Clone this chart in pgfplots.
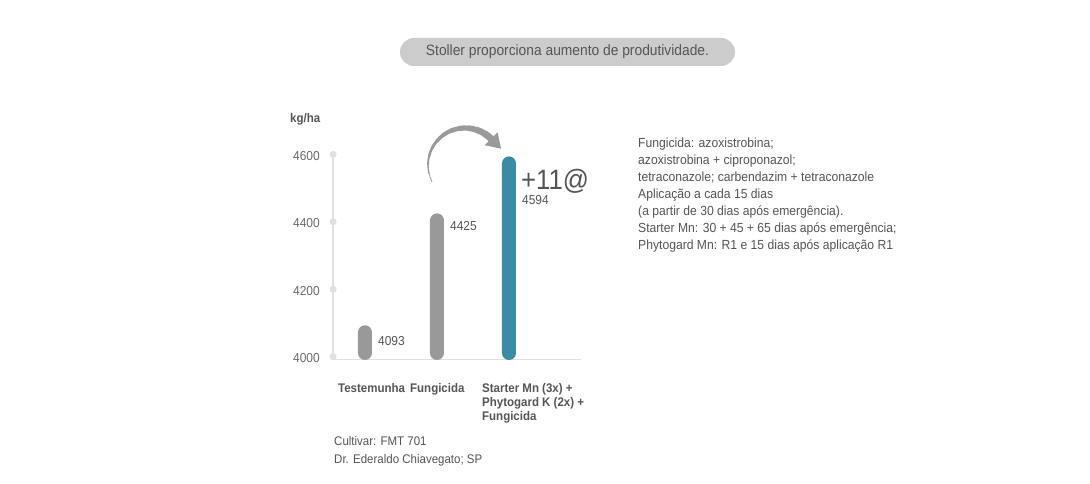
\documentclass[border=0pt]{standalone}
\usepackage{fontspec}
\setmainfont{Liberation Sans}[FakeStretch=0.92]
\usepackage{pgfplots}
\pgfplotsset{compat=1.18}
\definecolor{barg}{HTML}{999999}
\definecolor{bteal}{HTML}{3A8CA4}
\definecolor{axg}{HTML}{E0E0E0}
\definecolor{txt}{HTML}{555555}
\definecolor{tickc}{HTML}{6A6A6A}
\definecolor{pill}{HTML}{CCCCCC}
\definecolor{arr}{HTML}{9A9A9A}
\begin{document}
\begin{tikzpicture}[x=1pt,y=1pt]
\useasboundingbox[fill=white] (0,0) rectangle (1090,484);
\fill[pill, rounded corners=14pt] (400,418) rectangle (735,446);
\node[text=txt, font=\fontsize{15}{17}\selectfont] at (567.5,432) {Stoller proporciona aumento de produtividade.};
\node[anchor=base west, text=txt, inner sep=0pt, font=\fontsize{12.5}{15}\selectfont\bfseries] at (290,361) {kg/ha};

\begin{axis}[
  at={(333pt,124pt)}, anchor=south west,
  scale only axis, width=248pt, height=205.6pt,
  xmin=-0.444, xmax=3, ymin=3990, ymax=4600,
  axis lines*=left,
  x axis line style={draw=axg, line width=1pt},
  y axis line style={draw=axg, line width=2.5pt},
  xtick={0,1,2},
  xticklabels={Testemunha, Fungicida, {Starter Mn (3x) +\\Phytogard K (2x) +\\Fungicida}},
  xticklabel style={align=left, anchor=north west, inner sep=0pt, xshift=-27pt, yshift=-23.5pt, text=txt, font=\fontsize{12.5}{14}\selectfont\bfseries},
  ytick={4000,4200,4400,4600},
  yticklabel style={text=tickc, font=\fontsize{13}{15}\selectfont, inner sep=0pt, xshift=-13pt, yshift=-1.5pt, anchor=east},
  /pgf/number format/assume math mode=true,
  /pgf/number format/1000 sep={},
  major tick length=0pt,
  every node near coord/.append style={anchor=west, inner sep=0pt, text=txt, font=\fontsize{13}{15}\selectfont},
]
\addplot[only marks, mark=*, mark size=3.3pt, color=axg] coordinates {(-0.444,4000) (-0.444,4200) (-0.444,4400) (-0.444,4600)};
\addplot[ybar, bar width=14pt, bar shift=0pt, fill=barg, draw=none, rounded corners=7pt,
  nodes near coords, every node near coord/.append style={xshift=13pt, yshift=-16pt}] coordinates {(0,4093)};
\addplot[ybar, bar width=14pt, bar shift=0pt, fill=barg, draw=none, rounded corners=7pt,
  nodes near coords, every node near coord/.append style={xshift=13pt, yshift=-12.5pt}] coordinates {(1,4425)};
\addplot[ybar, bar width=14pt, bar shift=0pt, fill=bteal, draw=none, rounded corners=7pt,
  nodes near coords, every node near coord/.append style={xshift=13pt, yshift=-43.5pt}] coordinates {(2,4594)};
\end{axis}

% curved arrow
\begin{scope}[arr]
\foreach \i in {0,...,11}{
  \pgfmathsetmacro{\sa}{207-\i*13.5}
  \pgfmathsetmacro{\ea}{\sa-14.5}
  \pgfmathsetmacro{\w}{0.8+\i*0.55}
  \draw[line width=\w pt] (465,319) ++(\sa:37) arc[start angle=\sa, end angle=\ea, radius=37];
}
\fill (497.6,351.6) -- (501.1,335.3) -- (484.8,338.8) -- cycle;
\end{scope}
\node[anchor=west, text=txt, inner sep=0pt, font=\fontsize{28}{30}\selectfont] at (521,303) {+11@};

\node[anchor=base west, align=left, text=txt, inner sep=0pt, font=\fontsize{13.2}{17}\selectfont] at (638,234.5) {Fungicida: azoxistrobina;\\azoxistrobina + ciproponazol;\\tetraconazole; carbendazim + tetraconazole\\Aplicação a cada 15 dias\\(a partir de 30 dias após emergência).\\Starter Mn: 30 + 45 + 65 dias após emergência;\\Phytogard Mn: R1 e 15 dias após aplicação R1};

\node[anchor=base west, align=left, text=txt, inner sep=0pt, font=\fontsize{12.5}{18}\selectfont] at (334,20.5) {Cultivar: FMT 701\\Dr. Ederaldo Chiavegato; SP};
\end{tikzpicture}
\end{document}
